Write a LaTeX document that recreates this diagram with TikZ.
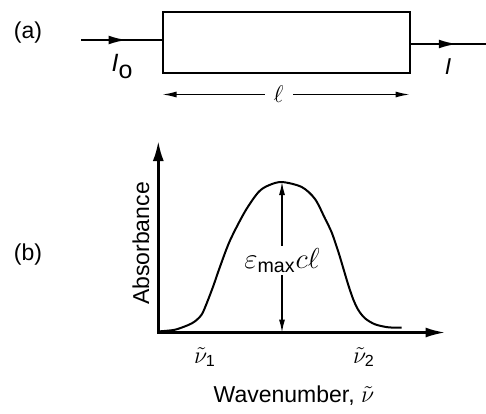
\documentclass[tikz,border=0pt]{standalone}
\usepackage{amsmath}
\usepackage{fontspec}
\setmainfont{Liberation Sans}
\usetikzlibrary{arrows.meta,decorations.markings}
\tikzset{
  heavy/.style={line width=1pt},
  axisline/.style={line width=1.3pt, {Latex[length=10pt,width=5.5pt]}-{Latex[length=10pt,width=5pt]}},
  thinarrow/.style={line width=0.65pt, {Latex[length=7pt,width=3pt]}-{Latex[length=7pt,width=3pt]}},
  midarrow/.style={postaction={decorate}, decoration={markings, mark=at position #1 with {\arrow{Latex[length=9pt,width=4.4pt]}}}},
  lbl/.style={inner sep=1pt},
}
\begin{document}
\begin{tikzpicture}[x=0.5pt,y=-0.5pt, font=\fontsize{11.5}{13.8}\selectfont]
\useasboundingbox (0,0) rectangle (486,413);
% ---------- (a)
\node[lbl] (la) at (28,33) {(a)};
\node[draw, heavy, minimum width=123.5pt, minimum height=30.5pt, inner sep=0pt, outer sep=0pt, anchor=north west] (cell) at (162.5,11.7) {};
\coordinate (src) at (81,40);
\coordinate (dst) at (486,44);
\draw[heavy, midarrow=0.56] (src) -- (src -| cell.west);
\draw[heavy, midarrow=0.62] (dst -| cell.east) -- (dst);
\node[lbl] (I0) at (122,67) {\fontsize{12.5}{14}\selectfont\textit{I}\raisebox{-3.5pt}{o}};
\node[lbl] (I1) at (448,67) {\textit{I}};
\coordinate (dl) at (162.5,94.5);
\coordinate (dr) at (409.5,94.5);
\draw[thinarrow] (dl) -- (dr) node[pos=0.47, fill=white, inner xsep=4.5pt, inner ysep=0pt] (ell) {$\ell$};
% ---------- (b)
\node[lbl] (lb) at (28,255) {(b)};
\coordinate (O) at (158.3,332.5);
\coordinate (ytop) at (158.3,141);
\coordinate (xend) at (445.5,332.5);
\draw[axisline] (ytop) -- (O) -- (xend);
\draw[heavy, line join=round] plot[smooth, tension=0.5] coordinates {
 (160,331.3) (175,329.7) (188.3,325) (195,321.3) (201.7,314.5) (206.7,303.3)
 (213.3,286) (220,266.7) (230,240.5) (245,211.5) (258.3,192.3) (268.3,185.5)
 (281.7,182) (301.7,187) (315,199) (325,218.5) (331.7,232.5) (338.3,251.7)
 (343.3,268.3) (348.3,285) (353.3,299.5) (358.3,310) (365,318.3) (375,324.3)
 (388.3,327.3) (401.7,327.7)};
\coordinate (pk) at (282,182);
\coordinate (pkb) at (282,332.5);
\draw[line width=0.65pt, {Latex[length=6.5pt,width=3pt]}-{Latex[length=6.5pt,width=3pt]}] (pk) -- (pkb)
  node[pos=0.52, fill=white, inner xsep=0pt, inner ysep=1pt, font=\fontsize{14}{16}\selectfont] (eps) {$\varepsilon_{\text{max}}c\ell$};
\node[lbl, rotate=90] (yl) at (141,243.5) {Absorbance};
\node[lbl] (n1) at (205,357) {$\tilde{\nu}_{\text{1}}$};
\node[lbl] (n2) at (364,357) {$\tilde{\nu}_{\text{2}}$};
\node[lbl] (xl) at (294,396) {Wavenumber, $\tilde{\nu}$};
\end{tikzpicture}
\end{document}
